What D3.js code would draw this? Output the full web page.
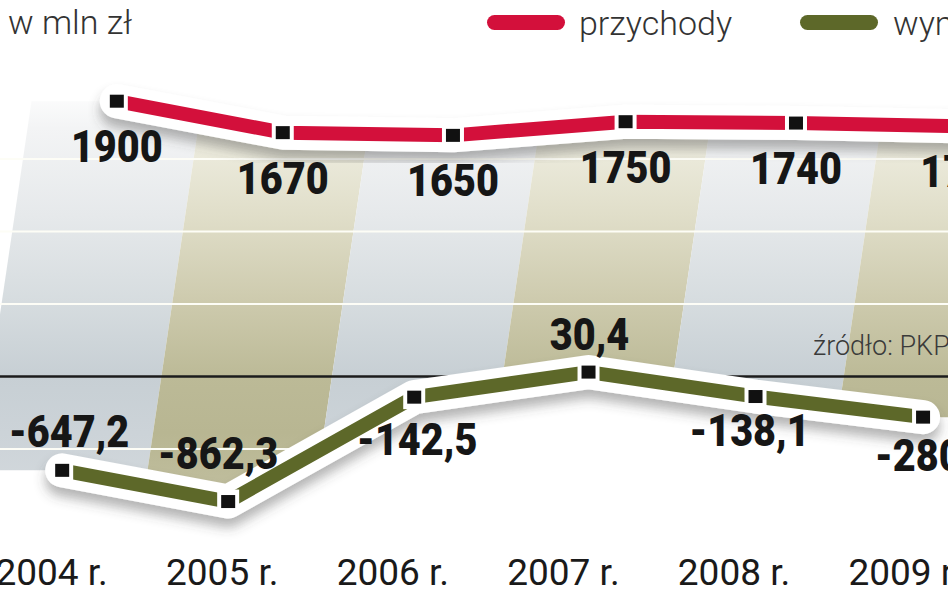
<!DOCTYPE html>
<html><head><meta charset="utf-8">
<script src="https://cdn.jsdelivr.net/npm/d3@7"></script>
<style>html,body{margin:0;padding:0;background:#fff;overflow:hidden}</style>
</head><body><svg id="c" width="948" height="593"></svg>
<script>
// ---- data ----
const years = ["2004 r.","2005 r.","2006 r.","2007 r.","2008 r.","2009 r."];
const przychody = [1900, 1670, 1650, 1750, 1740, 1715];
const wynik = [-647.2, -862.3, -142.5, 30.4, -138.1, -280.2];
const gridTicks = [-500, 0, 500, 1000, 1500];
const seriesNames = ["przychody", "wynik netto"];
const unitLabel = "w mln zł";
const sourceLabel = "źródło: PKP";

// ---- layout ----
const W = 948, H = 593;
const RED = "#d3103b", OLIVE = "#5d6829";
const svg = d3.select("#c");
const x = d3.scalePoint().domain(years).range([76, 929]);
const step = x.step();
const K = 0.148, Y0 = 377;               // perspective skew
const sx = (yr, y) => x(yr) + K * (Y0 - y);
const yRev = d3.scaleLinear().domain([1600, 1900]).range([142.2, 101.2]);
const yRes = d3.scaleLinear().domain([-1000, 1500]).range([521.5, 159]);
const pl = d3.formatLocale({decimal: ",", thousands: " ", grouping: [3], currency: ["", " zł"], minus: "-"});
const fRev = pl.format("d"), fRes = pl.format(".1f");

const ptsRev = years.map((yr, i) => [sx(yr, yRev(przychody[i])), yRev(przychody[i])]);
const ptsRes = years.map((yr, i) => [sx(yr, yRes(wynik[i])), yRes(wynik[i])]);

const defs = svg.append("defs");
function grad(id, stops) {
  const g = defs.append("linearGradient").attr("id", id)
    .attr("gradientUnits", "userSpaceOnUse").attr("x1", 0).attr("y1", 85).attr("x2", 0).attr("y2", 520);
  stops.forEach(s => g.append("stop").attr("offset", s[0]).attr("stop-color", s[1]));
}
grad("gGray", [[0,"#ffffff"],[0.1,"#f3f4f5"],[0.3,"#e6e9eb"],[0.5,"#d6dcdf"],[0.67,"#c7cfd4"],[0.8,"#ccd3d8"],[1,"#d6dbde"]]);
grad("gOlive", [[0,"#ffffff"],[0.1,"#f0efe3"],[0.3,"#e0dec9"],[0.5,"#cdcaad"],[0.67,"#bcba97"],[0.8,"#b8b692"],[1,"#c4c2a4"]]);
const f = defs.append("filter").attr("id", "sh").attr("x", "-10%").attr("y", "-60%").attr("width", "120%").attr("height", "240%");
f.append("feDropShadow").attr("dx", 0).attr("dy", 9).attr("stdDeviation", 6)
  .attr("flood-color", "#444").attr("flood-opacity", 0.4);

// bands
const T = 85, B = 520;
svg.append("g").selectAll("polygon").data(years).join("polygon")
  .attr("points", yr => [[sx(yr,T)-step/2,T],[sx(yr,T)+step/2,T],[sx(yr,B)+step/2,B],[sx(yr,B)-step/2,B]].join(" "))
  .attr("fill", (d,i) => i % 2 ? "url(#gOlive)" : "url(#gGray)");

// grid
svg.append("g").selectAll("line").data(gridTicks).join("line")
  .attr("x1", 0).attr("x2", W).attr("y1", d => yRes(d)).attr("y2", d => yRes(d))
  .attr("stroke", d => d === 0 ? "#1c1c1c" : "#fdfdf6")
  .attr("stroke-width", d => d === 0 ? 2.6 : 2.2);

// white area below the result line and above the revenue line
const below = [[0, ptsRes[0][1]], ...ptsRes, [W, ptsRes[ptsRes.length-1][1]]];
svg.append("path").attr("d", d3.area().y0(H)(below)).attr("fill", "#fff");
const above = [[0, ptsRev[0][1]], ...ptsRev, [W, ptsRev[ptsRev.length-1][1]]];
svg.append("path").attr("d", d3.area().y0(0)(above)).attr("fill", "#fff");

// source
svg.append("text").attr("x", 813).attr("y", 355).text(sourceLabel)
  .attr("font-family", "Roboto, sans-serif").attr("font-weight", 300).attr("font-size", 27).attr("fill", "#3a3a3a");

function drawSeries(pts, color) {
  const g = svg.append("g");
  const line = d3.line();
  g.append("path").attr("d", line(pts)).attr("fill", "none").attr("stroke", "#fff")
    .attr("stroke-width", 34).attr("stroke-linecap", "round").attr("stroke-linejoin", "round").attr("filter", "url(#sh)");
  g.append("path").attr("d", line(pts)).attr("fill", "none").attr("stroke", color)
    .attr("stroke-width", 14).attr("stroke-linejoin", "round");
  g.selectAll("rect.gap").data(pts).join("rect").attr("class", "gap")
    .attr("x", d => d[0] - 11).attr("y", d => d[1] - 12).attr("width", 22).attr("height", 24).attr("fill", "#fff");
  g.selectAll("rect.mk").data(pts).join("rect").attr("class", "mk")
    .attr("x", d => d[0] - 7).attr("y", d => d[1] - 6.5).attr("width", 14).attr("height", 13).attr("fill", "#111");
}
drawSeries(ptsRev, RED);
drawSeries(ptsRes, OLIVE);

// value labels
function valLabel(px, py, txt) {
  svg.append("text").attr("transform", `translate(${px},${py}) scale(0.88,1)`)
    .attr("text-anchor", "middle").attr("font-family", "Roboto, sans-serif").attr("font-weight", 900)
    .attr("font-size", 45).attr("fill", "#161616").text(txt);
}
ptsRev.forEach((p, i) => valLabel(p[0], p[1] + 61, fRev(przychody[i])));
const resOff = [[7,-23],[-10,-33],[3,58],[1,-22],[-6,49],[12,54]];
ptsRes.forEach((p, i) => valLabel(p[0] + resOff[i][0], p[1] + resOff[i][1], fRes(wynik[i])));

// year labels
svg.append("g").selectAll("text").data(years).join("text")
  .attr("x", d => sx(d, 555) + 2).attr("y", 585).attr("text-anchor", "middle")
  .attr("font-family", "Roboto, sans-serif").attr("font-size", 37).attr("fill", "#1a1a1a").text(d => d);

// header / legend
svg.append("text").attr("x", 8).attr("y", 34).text(unitLabel)
  .attr("font-family", "Roboto, sans-serif").attr("font-weight", 300).attr("font-size", 34).attr("fill", "#333");
const lg = [[487, RED, 579], [800, OLIVE, 893]];
seriesNames.forEach((n, i) => {
  svg.append("rect").attr("x", lg[i][0]).attr("y", 15).attr("width", 78).attr("height", 15).attr("rx", 7.5).attr("fill", lg[i][1]);
  svg.append("text").attr("x", lg[i][2]).attr("y", 35).text(n)
    .attr("font-family", "Roboto, sans-serif").attr("font-weight", 300).attr("font-size", 34).attr("fill", "#333");
});
</script></body></html>
